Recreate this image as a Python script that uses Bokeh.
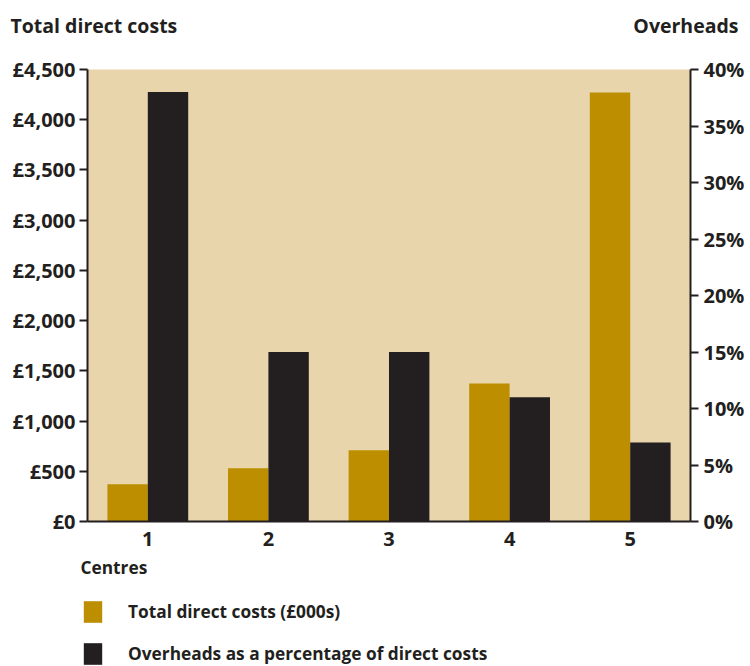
from bokeh.plotting import figure
from bokeh.layouts import column
from bokeh.models import (FactorRange, Range1d, LinearAxis, FixedTicker, Label,
                          Legend, LegendItem, ColumnDataSource)
from bokeh.transform import dodge
from bokeh.embed import file_html
from bokeh.resources import INLINE

centres = ["1", "2", "3", "4", "5"]
direct_costs = [370, 530, 710, 1375, 4270]          # £000s
overheads_pct = [38, 15, 15, 11, 7]                 # %
left_ticks = [0, 500, 1000, 1500, 2000, 2500, 3000, 3500, 4000, 4500]
left_tick_labels = ["£0", "£500", "£1,000", "£1,500", "£2,000", "£2,500",
                    "£3,000", "£3,500", "£4,000", "£4,500"]
right_ticks = [0, 5, 10, 15, 20, 25, 30, 35, 40]
right_tick_labels = ["0%", "5%", "10%", "15%", "20%", "25%", "30%", "35%", "40%"]
series_names = ["Total direct costs (£000s)", "Overheads as a percentage of direct costs"]

GOLD = "#BD8F00"
DARK = "#231F20"
BG = "#E9D5AC"
FONT = "Open Sans"
TICK_FS = "20px"
TITLE_FS = "19.5px"
TEXT_FS = "17.3px"

def blank(height):
    f = figure(width=750, height=height, x_axis_type=None, y_axis_type=None,
               x_range=Range1d(0, 1), y_range=Range1d(0, 1),
               output_backend="svg", toolbar_location=None,
               min_border=0, min_border_left=0, min_border_right=0,
               min_border_top=0, min_border_bottom=0)
    f.outline_line_color = None
    f.xgrid.visible = False
    f.ygrid.visible = False
    f.background_fill_color = "white"
    f.border_fill_color = "white"
    return f

label_kw = dict(x_units="screen", y_units="screen", text_font=FONT,
                text_font_style="bold", text_color=DARK, text_baseline="middle")

# ---- top strip: axis titles
TOP_H = 45
top = blank(TOP_H)
top.add_layout(Label(x=10, y=TOP_H - 25, text="Total direct costs",
                     text_font_size=TITLE_FS, **label_kw))
top.add_layout(Label(x=738, y=TOP_H - 25, text="Overheads", text_align="right",
                     text_font_size=TITLE_FS, **label_kw))

# ---- main chart
src = ColumnDataSource(dict(centre=centres, cost=direct_costs, pct=overheads_pct))
p = figure(width=750, height=511, x_range=FactorRange(factors=centres),
           y_range=Range1d(0, 4500), output_backend="svg", toolbar_location=None,
           min_border_left=87, min_border_right=60, min_border_top=24,
           min_border_bottom=35)
p.extra_y_ranges = {"pct": Range1d(0, 40)}
p.background_fill_color = BG
p.border_fill_color = "white"
p.outline_line_color = None
p.xgrid.visible = False
p.ygrid.visible = False

bw = 0.335
p.vbar(x=dodge("centre", -bw / 2, range=p.x_range), top="cost", width=bw,
       source=src, fill_color=GOLD, line_color=None)
p.vbar(x=dodge("centre", bw / 2, range=p.x_range), top="pct", width=bw,
       source=src, fill_color=DARK, line_color=None, y_range_name="pct")

def style_axis(ax):
    ax.axis_line_color = DARK
    ax.axis_line_width = 2
    ax.major_tick_line_color = DARK
    ax.major_tick_line_width = 2
    ax.major_tick_out = 8
    ax.major_tick_in = 0
    ax.minor_tick_line_color = None
    ax.major_label_text_font = FONT
    ax.major_label_text_font_style = "bold"
    ax.major_label_text_font_size = TICK_FS
    ax.major_label_text_color = DARK

ly = p.yaxis[0]
style_axis(ly)
ly.ticker = FixedTicker(ticks=left_ticks)
ly.major_label_overrides = {t: s for t, s in zip(left_ticks, left_tick_labels)}
ly.major_label_standoff = 4

ry = LinearAxis(y_range_name="pct", ticker=FixedTicker(ticks=right_ticks))
style_axis(ry)
ry.major_label_overrides = {t: s for t, s in zip(right_ticks, right_tick_labels)}
ry.major_label_standoff = 5
p.add_layout(ry, "right")

bx = p.xaxis[0]
style_axis(bx)
bx.major_tick_line_color = None
bx.major_tick_out = 0
bx.major_label_standoff = 10

# ---- bottom strip: axis name and legend
BOT_H = 110
bot = blank(BOT_H)
# swatch renderers for the legend (kept outside the visible range)
swatch = ColumnDataSource(dict(x=[5], top=[5]))
g1 = bot.vbar(x="x", top="top", width=0.1, source=swatch, fill_color=GOLD, line_color=None)
g2 = bot.vbar(x="x", top="top", width=0.1, source=swatch, fill_color=DARK, line_color=None)
bot.add_layout(Label(x=80, y=BOT_H - 11, text="Centres", text_font_size=TEXT_FS, **label_kw))
legend = Legend(items=[LegendItem(label=series_names[0], renderers=[g1]),
                       LegendItem(label=series_names[1], renderers=[g2])],
                location=(81, -1), orientation="vertical",
                glyph_width=23, glyph_height=27, label_standoff=24, spacing=15,
                padding=0, margin=0, border_line_color=None, background_fill_alpha=0,
                label_text_font=FONT, label_text_font_style="bold",
                label_text_font_size=TEXT_FS, label_text_color=DARK)
bot.add_layout(legend, "center")

layout = column(column(top), p, column(bot), spacing=0)
open("out.html", "w").write(file_html(layout, INLINE))
